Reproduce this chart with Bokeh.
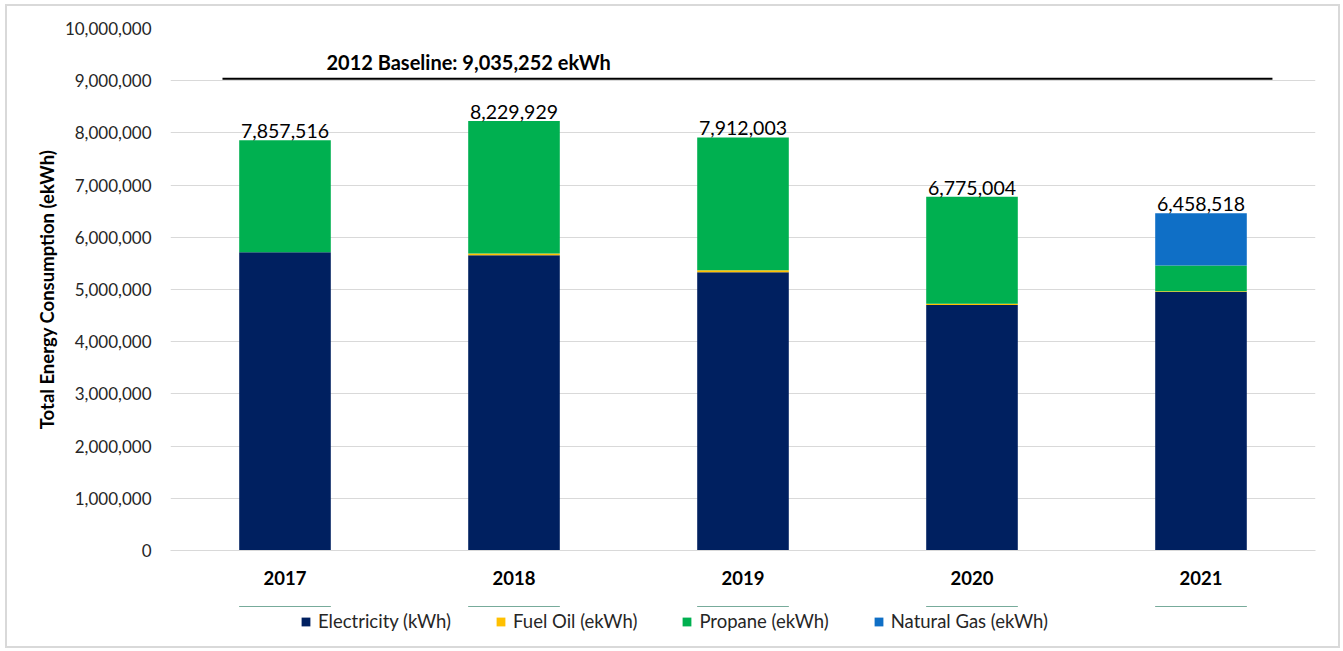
from bokeh.plotting import figure
from bokeh.layouts import column
from bokeh.models import (ColumnDataSource, Range1d, FixedTicker, SingleIntervalTicker,
                          NumeralTickFormatter, Legend, LegendItem, Label, LabelSet)
from bokeh.core.properties import value
from bokeh.embed import file_html
from bokeh.resources import INLINE

# ---------------- data ----------------
years = ["2017", "2018", "2019", "2020", "2021"]
electricity = [5715000, 5655000, 5330000, 4705000, 4950000]
fuel_oil = [0, 35000, 40000, 20000, 15000]
propane = [2142516, 2539929, 2542003, 2050004, 495000]
natural_gas = [0, 0, 0, 0, 998518]
totals = [7857516, 8229929, 7912003, 6775004, 6458518]
baseline = 9035252
baseline_text = "2012 Baseline: 9,035,252 ekWh"
series_names = ["Electricity (kWh)", "Fuel Oil (ekWh)", "Propane (ekWh)", "Natural Gas (ekWh)"]
colors = ["#002060", "#FFC000", "#00B050", "#0F6FC6"]

FONT = "Lato"
TXT = "#262626"
STACK = ["elec", "fuel", "prop", "gas"]

xs = [i + 0.5 for i in range(len(years))]
src = ColumnDataSource(dict(
    x=xs, elec=electricity, fuel=fuel_oil, prop=propane, gas=natural_gas,
    total=totals, label=[f"{t:,}" for t in totals]))

p = figure(width=1331, height=600, output_backend="svg", toolbar_location=None,
           x_range=Range1d(0, len(years)), y_range=Range1d(0, 10_000_000),
           min_border_left=163, min_border_right=23, min_border_top=22,
           min_border_bottom=56)
p.outline_line_color = None

p.vbar_stack(STACK, x="x", width=0.4, color=colors, line_color=None, source=src)

# baseline
p.segment(x0=[0.227], x1=[4.812], y0=[baseline], y1=[baseline],
          line_color="black", line_width=2)
p.add_layout(Label(x=0.681, y=baseline, y_offset=5, text=baseline_text,
                   text_font=FONT, text_font_size="20px", text_font_style="bold",
                   text_color="black", text_baseline="bottom", text_align="left"))

# totals
p.add_layout(LabelSet(x="x", y="total", text="label", source=src, y_offset=2,
                      text_align="center", text_baseline="bottom",
                      text_font=value(FONT), text_font_size=value("19.5px"),
                      text_color="black"))

# axes
p.xaxis.ticker = FixedTicker(ticks=xs)
p.xaxis.major_label_overrides = {x: y for x, y in zip(xs, years)}
p.xaxis.major_label_text_font = FONT
p.xaxis.major_label_text_font_size = "18.5px"
p.xaxis.major_label_text_font_style = "bold"
p.xaxis.major_label_text_color = "black"
p.xaxis.major_label_standoff = 14
p.xaxis.axis_line_color = "#D9D9D9"
p.xaxis.major_tick_line_color = None
p.xaxis.minor_tick_line_color = None

p.yaxis.ticker = SingleIntervalTicker(interval=1_000_000)
p.yaxis.formatter = NumeralTickFormatter(format="0,0")
p.yaxis.major_label_text_font = FONT
p.yaxis.major_label_text_font_size = "17px"
p.yaxis.major_label_text_color = TXT
p.yaxis.major_label_standoff = 13
p.yaxis.axis_line_color = None
p.yaxis.major_tick_line_color = None
p.yaxis.minor_tick_line_color = None
p.yaxis.axis_label = "Total Energy Consumption (ekWh)"
p.yaxis.axis_label_text_font = FONT
p.yaxis.axis_label_text_font_size = "18.5px"
p.yaxis.axis_label_text_font_style = "bold"
p.yaxis.axis_label_text_color = "black"
p.yaxis.axis_label_standoff = 4

p.xgrid.grid_line_color = None
p.ygrid.grid_line_color = "#D9D9D9"
p.ygrid.grid_line_width = 1

# legend strip (separate figure below the chart; its view range lies far below
# the data, so the bars there stay out of sight and only feed the legend swatches)
leg = figure(width=1331, height=40, output_backend="svg", toolbar_location=None,
             x_axis_type=None, y_axis_type=None,
             x_range=Range1d(0, len(years)), y_range=Range1d(-2e8, -1e8),
             min_border_left=0, min_border_right=0, min_border_top=0, min_border_bottom=0)
leg.outline_line_color = None
leg.xgrid.visible = False
leg.ygrid.visible = False
swatches = leg.vbar_stack(STACK, x="x", width=0.4, color=colors, line_color=None, source=src)
legend = Legend(items=[LegendItem(label=n, renderers=[r]) for n, r in zip(series_names, swatches)],
                orientation="horizontal", location=(130, 14),
                padding=0, margin=0, spacing=44, label_standoff=7,
                glyph_width=11, glyph_height=11,
                border_line_color=None, background_fill_alpha=0,
                label_text_font=FONT, label_text_font_size="18.5px", label_text_color=TXT)
leg.add_layout(legend, "center")

layout = column(p, leg, spacing=0)
layout.styles = {"border": "2px solid #D9D9D9", "position": "relative", "left": "5px", "top": "4px"}

open("out.html", "w").write(file_html(layout, INLINE))
